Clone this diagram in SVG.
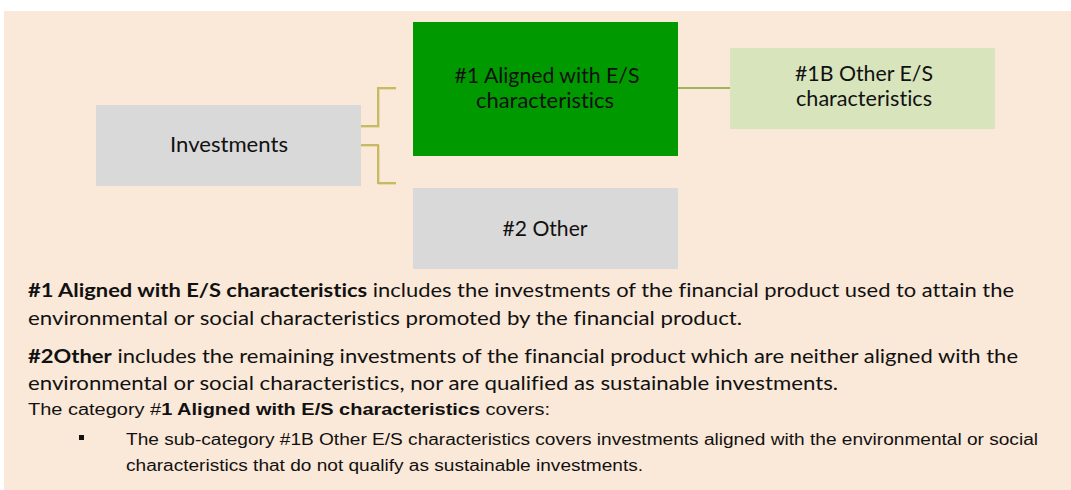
<svg xmlns="http://www.w3.org/2000/svg" width="1071" height="490" viewBox="0 0 1071 490">
<style>
.bg{fill:#fae8d8}
.grey{fill:#d9d9d9}
.green{fill:#009a00}
.lgreen{fill:#d8e4bc}
text{font-variant-ligatures:none}
.lbl{font-family:Lato,"Open Sans","Noto Sans",sans-serif;font-size:20.5px;fill:#111;text-anchor:middle}
.p{font-family:Lato,"Open Sans","Noto Sans",sans-serif;font-size:19.5px;fill:#111}
.a{font-family:"Liberation Sans",Arial,sans-serif;font-size:16px;fill:#111}
.b{font-weight:bold}
.con{fill:none;stroke:#c8b964;stroke-width:2}
.conS{fill:none;stroke:#e8d9a8;stroke-width:2}
.con2{fill:none;stroke:#9bb55a;stroke-width:2}
</style>
<rect class="bg" x="4" y="11" width="1067" height="479"/>
<g id="connectors">
<path class="conS" d="M361,127 H379 V89 H396"/>
<path class="conS" d="M361,146 H379 V184 H396"/>
<path class="con" d="M361,126 H378 V88 H396"/>
<path class="con" d="M361,145 H378 V183 H396"/>
<path class="con2" d="M678,88 H730"/>
</g>
<g id="investments">
<rect class="grey" x="96" y="105" width="265" height="81"/>
<text class="lbl" x="229" y="152" textLength="118" lengthAdjust="spacingAndGlyphs">Investments</text>
</g>
<g id="aligned">
<rect class="green" x="413" y="22" width="265" height="134"/>
<text class="lbl" x="547" y="83" textLength="185" lengthAdjust="spacingAndGlyphs">#1 Aligned with E/S</text>
<text class="lbl" x="545" y="108" textLength="138" lengthAdjust="spacingAndGlyphs">characteristics</text>
</g>
<g id="other-es">
<rect class="lgreen" x="730" y="48" width="265" height="81"/>
<text class="lbl" x="864" y="81" textLength="138" lengthAdjust="spacingAndGlyphs">#1B Other E/S</text>
<text class="lbl" x="864" y="106" textLength="136" lengthAdjust="spacingAndGlyphs">characteristics</text>
</g>
<g id="other">
<rect class="grey" x="413" y="188" width="265" height="81"/>
<text class="lbl" x="545" y="236" textLength="85" lengthAdjust="spacingAndGlyphs">#2 Other</text>
</g>
<g id="notes">
<text class="p" x="28" y="297" textLength="986" lengthAdjust="spacingAndGlyphs"><tspan class="b">#1 Aligned with E/S characteristics</tspan> includes the investments of the financial product used to attain the</text>
<text class="p" x="28" y="325" textLength="714" lengthAdjust="spacingAndGlyphs">environmental or social characteristics promoted by the financial product.</text>
<text class="p" x="28" y="363" textLength="990" lengthAdjust="spacingAndGlyphs"><tspan class="b">#2Other</tspan> includes the remaining investments of the financial product which are neither aligned with the</text>
<text class="p" x="28" y="390" textLength="810" lengthAdjust="spacingAndGlyphs">environmental or social characteristics, nor are qualified as sustainable investments.</text>
<text class="a" x="28" y="415" textLength="522" lengthAdjust="spacingAndGlyphs">The category #<tspan class="b">1 Aligned with E/S characteristics</tspan> covers:</text>
<rect x="79" y="435" width="5" height="5" fill="#111"/>
<text class="a" x="126" y="445" textLength="912" lengthAdjust="spacingAndGlyphs">The sub-category #1B Other E/S characteristics covers investments aligned with the environmental or social</text>
<text class="a" x="126" y="471" textLength="517" lengthAdjust="spacingAndGlyphs">characteristics that do not qualify as sustainable investments.</text>
</g>
</svg>
